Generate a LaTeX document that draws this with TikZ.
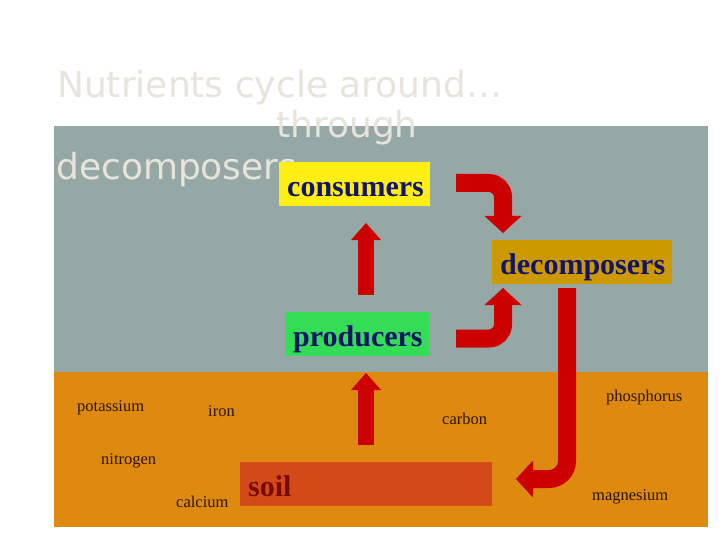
\documentclass[tikz,border=0pt]{standalone}
\usepackage{fontspec}
\setmainfont{Liberation Serif}
\newfontfamily\titlefont{DejaVu Sans}
\usetikzlibrary{arrows.meta}
\definecolor{sky}{HTML}{95A8A6}
\definecolor{earth}{HTML}{DE8A10}
\definecolor{soilc}{HTML}{D24A18}
\definecolor{arrowred}{HTML}{CC0000}
\definecolor{consc}{HTML}{FFEE11}
\definecolor{prodc}{HTML}{33DD55}
\definecolor{decoc}{HTML}{CC9900}
\definecolor{navy}{HTML}{12146A}
\definecolor{soiltext}{HTML}{7A0A00}
\definecolor{labelc}{HTML}{2B1500}
\definecolor{titlec}{HTML}{E8E4DC}
\tikzset{
  titletext/.style={anchor=base west, inner sep=0pt, text=titlec,
    font=\titlefont\fontsize{36}{36}\selectfont},
  levelbox/.style={anchor=north west, inner xsep=8pt, inner ysep=0pt,
    text height=34pt, text depth=10pt, align=left,
    font=\fontsize{30}{30}\selectfont\bfseries, text=navy},
  nutrient/.style={anchor=west, inner sep=0pt, text=labelc,
    font=\fontsize{16.5}{16.5}\selectfont},
  fatarrow/.style={draw=arrowred, line width=#1, line cap=butt, line join=miter},
  uptip/.style={-{Triangle[width=30pt,length=17pt,line width=0pt]}},
  bigtip/.style={-{Triangle[width=37pt,length=17pt,line width=0pt]}}
}
\begin{document}
\begin{tikzpicture}[x=1pt,y=-1pt]
\useasboundingbox (0,0) rectangle (720,540);
\fill[white] (0,0) rectangle (720,540);
\fill[sky] (54,126) rectangle (708,372);
\fill[earth] (54,372) rectangle (708,527);

% title
\node[titletext] (t1) at (57,98) {Nutrients cycle around…};
\node[titletext] (t2) at (276,138) {through};
\node[titletext] (t3) at (56,180) {decomposers};

% level boxes
\node[levelbox, fill=consc, text width=135pt] (cons) at (279,162) {consumers};
\node[levelbox, fill=decoc, text width=164pt] (deco) at (492,240) {decomposers};
\node[levelbox, fill=prodc, text width=128pt] (prod) at (285,312) {producers};
\node[levelbox, fill=soilc, text width=236pt, text=soiltext] (soil) at (240,462) {soil};

% nutrients
\node[nutrient] (potassium) at (77,408) {potassium};
\node[nutrient] (iron) at (208,411) {iron};
\node[nutrient] (nitrogen) at (101,461) {nitrogen};
\node[nutrient] (calcium) at (176,502) {calcium};
\node[nutrient] (carbon) at (442,419) {carbon};
\node[nutrient] (phosphorus) at (606,398) {phosphorus};
\node[nutrient] (magnesium) at (592,497) {magnesium};

% arrow end points
\coordinate (pcS) at (366,295);
\coordinate (pcE) at (366,223);
\coordinate (spS) at (366,445);
\coordinate (spE) at (366,373);
\coordinate (cdS) at (456,183);
\coordinate (cdC) at (503,183);
\coordinate (cdE) at (503,233);
\coordinate (pdS) at (456,338.5);
\coordinate (pdC) at (503,338.5);
\coordinate (pdE) at (503,288);
\coordinate (dsS) at (567,288);
\coordinate (dsC) at (567,479);
\coordinate (dsE) at (516,479);

% arrows
\draw[fatarrow=16pt, uptip] (pcS) -- (pcE);
\draw[fatarrow=16pt, uptip] (spS) -- (spE);
\draw[fatarrow=18pt, bigtip, rounded corners=14pt] (cdS) -- (cdC) -- (cdE);
\draw[fatarrow=18pt, bigtip, rounded corners=14pt] (pdS) -- (pdC) -- (pdE);
\draw[fatarrow=18pt, bigtip, rounded corners=18pt] (dsS) -- (dsC) -- (dsE);
\end{tikzpicture}
\end{document}
